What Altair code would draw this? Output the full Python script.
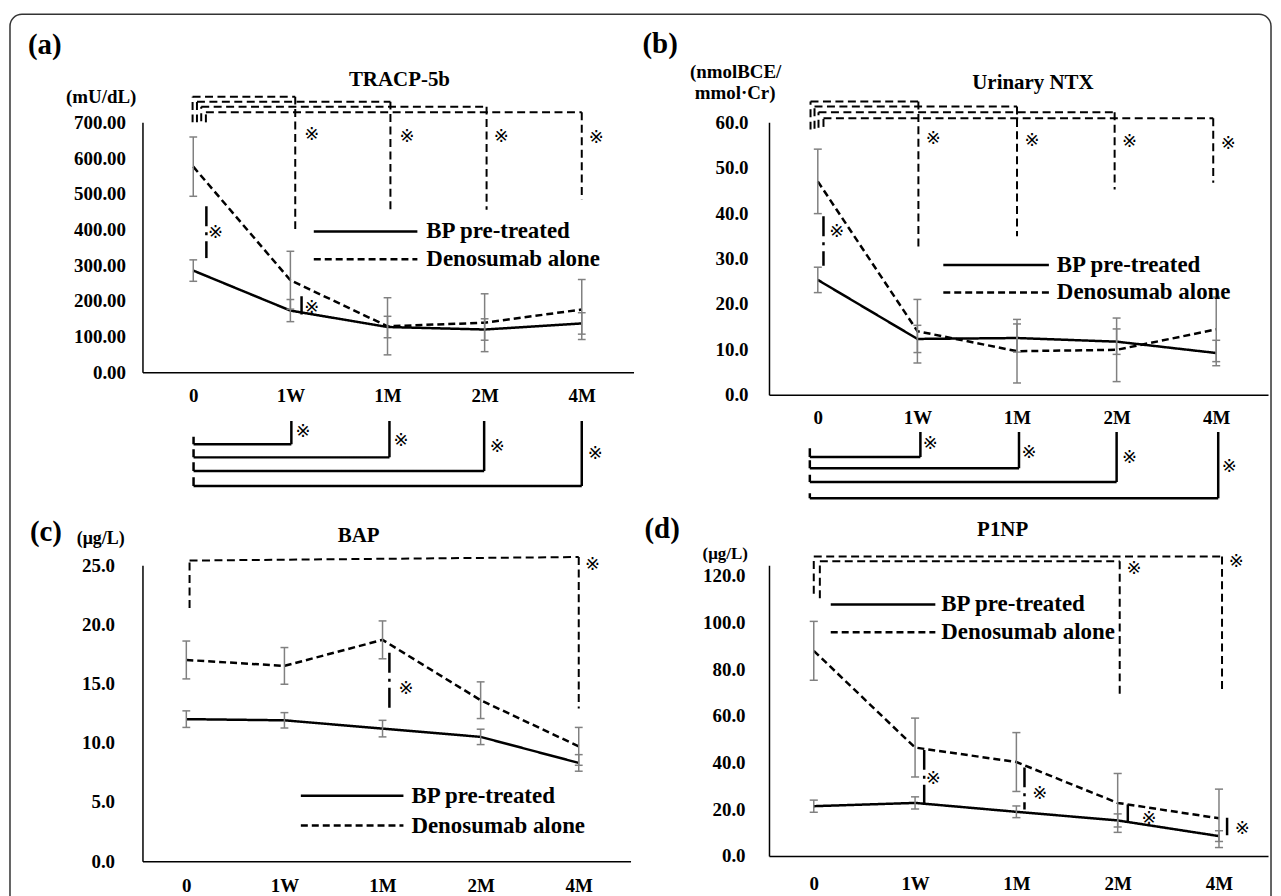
import altair as alt
import pandas as pd

SERIF = "Liberation Serif"
STARFONT = "DejaVu Sans"

TIMES = ["0", "1W", "1M", "2M", "4M"]
GROUPS = ["BP pre-treated", "Denosumab alone"]

# (a) TRACP-5b (mU/dL)
a_bp = [285, 173, 127, 120, 137]
a_bp_sd = [30, 31, 30, 30, 30]
a_den = [576, 258, 129, 139, 176]
a_den_sd = [83, 81, 80, 81, 84]

# (b) Urinary NTX (nmolBCE/mmol.Cr)
b_bp = [25.3, 12.3, 12.5, 11.7, 9.2]
b_bp_sd = [2.8, 3.0, 3.1, 2.8, 2.8]
b_den = [47.0, 14.0, 9.6, 9.9, 14.4]
b_den_sd = [7.1, 7.0, 7.0, 7.0, 7.1]

# (c) BAP (ug/L)
c_bp = [12.0, 11.9, 11.2, 10.5, 8.3]
c_bp_sd = [0.7, 0.65, 0.7, 0.65, 0.7]
c_den = [17.0, 16.5, 18.7, 13.6, 9.7]
c_den_sd = [1.6, 1.55, 1.6, 1.55, 1.6]

# (d) P1NP (ug/L)
d_bp = [21.3, 22.7, 18.9, 15.2, 8.5]
d_bp_sd = [2.6, 2.6, 2.5, 2.8, 2.3]
d_den = [87.8, 46.4, 40.2, 22.7, 16.1]
d_den_sd = [12.6, 12.6, 12.6, 12.6, 12.5]

# significance brackets: (x_left, x_right, level_left, level_right, end_left, end_right)
a_within_den = [(-0.007, 1.05, 772, 772, 700, 390), (0.038, 2.03, 758, 758, 700, 455),
                (0.082, 3.02, 744, 744, 703, 455), (0.13, 4.0, 728, 728, 700, 483)]
a_within_bp = [(0.003, 1.01, -201, -201, -180, -136), (0.003, 2.02, -238, -238, -215, -136),
               (0.003, 2.995, -276, -276, -252, -136), (0.003, 4.0, -318, -318, -294, -136)]
a_between = [(0.135, 465, 320, "dashdot"), (1.115, 213, 162, "solid")]
a_stars = [(1.22, 665), (2.2, 660), (3.17, 660), (4.15, 656), (0.23, 390), (1.22, 181),
           (1.13, -168), (2.14, -192), (3.13, -210), (4.14, -229)]

b_within_den = [(-0.073, 1.01, 64.6, 64.6, 58.4, 31.7), (-0.033, 2.0, 63.5, 63.5, 58.6, 34.9),
                (0.007, 2.98, 62.2, 62.2, 58.8, 45.2), (0.057, 3.97, 60.9, 60.9, 59.0, 46.7)]
b_within_bp = [(-0.08, 1.03, -13.7, -13.7, -11.8, -8.2), (-0.08, 2.02, -16.2, -16.2, -14.4, -8.2),
               (-0.08, 3.0, -19.2, -19.2, -17.6, -8.2), (-0.08, 4.02, -22.8, -22.8, -21.7, -8.2)]
b_between = [(0.057, 39.3, 28.4, "dashdot")]
b_stars = [(1.16, 56.3), (2.15, 55.8), (3.13, 55.6), (4.12, 55.3), (0.19, 35.9),
           (1.13, -10.75), (2.12, -12.9), (3.13, -14.0), (4.13, -15.9)]

c_within_den = [(0.033, 4.0, 25.4, 25.7, 21.4, 12.9)]
c_within_bp = []
c_between = [(2.07, 17.6, 12.8, "dashdot")]
c_stars = [(4.14, 25.0), (2.24, 14.55)]

d_within_den = [(0.0, 4.03, 128.2, 128.2, 112.2, 69.6), (0.06, 3.02, 126.1, 126.1, 110.3, 67.5)]
d_within_bp = []
d_between = [(1.09, 45.4, 22.7, "dashdot"), (2.08, 37.9, 19.9, "dashdot"),
             (3.10, 22.0, 14.2, "solid"), (4.08, 16.3, 8.9, "solid")]
d_stars = [(3.16, 122.8), (4.17, 125.7), (1.18, 33.1), (2.23, 26.6), (3.31, 15.6), (4.23, 11.4)]

ONE = pd.DataFrame({"k": [0]})
DASHES = {"dash": [8, 4.5], "solid": [1, 0], "dashdot": [20, 6, 3, 6]}


def series_df(bp, bp_sd, den, den_sd):
    rows = []
    for g, vals, sds in [(GROUPS[0], bp, bp_sd), (GROUPS[1], den, den_sd)]:
        for i, (v, s) in enumerate(zip(vals, sds)):
            rows.append({"pos": i, "time": TIMES[i], "group": g,
                         "value": v, "lo": v - s, "hi": v + s})
    return pd.DataFrame(rows)


def seg_df(within_den, within_bp, between):
    rows = []
    for style, lst in [("dash", within_den), ("solid", within_bp)]:
        for (xl, xr, ll, lr, yl, yr) in lst:
            rows += [{"x1": xl, "y1": yl, "x2": xl, "y2": ll, "style": style},
                     {"x1": xl, "y1": ll, "x2": xr, "y2": lr, "style": style},
                     {"x1": xr, "y1": lr, "x2": xr, "y2": yr, "style": style}]
    for (x, y1, y2, style) in between:
        rows.append({"x1": x, "y1": y1, "x2": x, "y2": y2, "style": style})
    return pd.DataFrame(rows, columns=["x1", "y1", "x2", "y2", "style"])


label_expr = " : ".join([f"datum.value == {i} ? '{t}'" for i, t in enumerate(TIMES)]) + " : ''"


def text_mark(txt, x, y, size, align="center", font=SERIF, weight="bold"):
    return alt.Chart(ONE).mark_text(text=txt, align=align, baseline="middle", font=font,
                                    fontSize=size, fontWeight=weight, color="black").encode(
        x=alt.value(x), y=alt.value(y))


def panel(p):
    xscale = alt.Scale(domain=p["xdom"], nice=False, zero=False)
    yscale = alt.Scale(domain=p["ydom"], nice=False, zero=False)
    xaxis = alt.Axis(values=[0, 1, 2, 3, 4], labelExpr=label_expr, ticks=False, grid=False,
                     labelFont=SERIF, labelFontSize=19, labelFontWeight="bold", labelColor="black",
                     labelPadding=p["xpad"], domainColor="black", domainWidth=1.5, title=None)
    yaxis = alt.Axis(values=p["yvals"], format=p["yfmt"], ticks=False, grid=False,
                     labelFont=SERIF, labelFontSize=19, labelFontWeight="bold", labelColor="black",
                     labelPadding=p["ypad"], domainColor="black", domainWidth=1.5, title=None)

    def X(f):
        return alt.X(f, scale=xscale, axis=xaxis, title=None)

    def Y(f):
        return alt.Y(f, scale=yscale, axis=yaxis, title=None)

    df = p["df"]
    segs = p["segs"]
    layers = []
    for style, width in [("dash", 2), ("solid", 2.5), ("dashdot", 2.5)]:
        sub = segs[segs["style"] == style]
        if len(sub):
            layers.append(alt.Chart(sub).mark_rule(color="black", strokeWidth=width,
                                                   strokeDash=DASHES[style]).encode(
                x=X("x1:Q"), x2="x2:Q", y=Y("y1:Q"), y2="y2:Q"))
    for g, dash in [(GROUPS[0], [1, 0]), (GROUPS[1], [7, 4])]:
        layers.append(alt.Chart(df[df["group"] == g]).mark_line(
            color="black", strokeWidth=2.5, strokeDash=dash).encode(
            x=X("pos:Q"), y=Y("value:Q"), tooltip=["time:N", "group:N", "value:Q"]))
    gray = "#808080"
    layers.append(alt.Chart(df).mark_rule(color=gray, strokeWidth=1.5).encode(
        x=X("pos:Q"), y=Y("lo:Q"), y2="hi:Q"))
    layers.append(alt.Chart(df).transform_fold(["lo", "hi"], as_=["end", "yv"]).transform_calculate(
        xa="datum.pos - 0.04", xb="datum.pos + 0.04").mark_rule(color=gray, strokeWidth=1.5).encode(
        x=X("xa:Q"), x2="xb:Q", y=Y("yv:Q")))
    stars = pd.DataFrame(p["stars"], columns=["sx", "sy"])
    layers.append(alt.Chart(stars).mark_text(text="※", font=STARFONT, fontSize=18,
                                             color="black").encode(x=X("sx:Q"), y=Y("sy:Q")))
    # legend
    lx1, lx2, ly1, ly2, ltx = p["legend"]
    layers.append(alt.Chart(ONE).mark_rule(color="black", strokeWidth=2.5).encode(
        x=alt.value(lx1), x2=alt.value(lx2), y=alt.value(ly1)))
    layers.append(alt.Chart(ONE).mark_rule(color="black", strokeWidth=2.5, strokeDash=[7, 4]).encode(
        x=alt.value(lx1), x2=alt.value(lx2), y=alt.value(ly2)))
    layers.append(text_mark(GROUPS[0], ltx, ly1, 23, align="left"))
    layers.append(text_mark(GROUPS[1], ltx, ly2, 23, align="left"))
    for (txt, x, y, size, align) in p["texts"]:
        layers.append(text_mark(txt, x, y, size, align=align))
    if p.get("border"):
        bx1, bx2, by1, by2 = p["border"]
        layers.insert(0, alt.Chart(ONE).mark_rect(fill="transparent", stroke="#333333", strokeWidth=1.5,
                                                  cornerRadius=12).encode(
            x=alt.value(bx1), x2=alt.value(bx2), y=alt.value(by1), y2=alt.value(by2)))
    return alt.layer(*layers).properties(width=p["w"], height=p["h"])


pa = dict(df=series_df(a_bp, a_bp_sd, a_den, a_den_sd), segs=seg_df(a_within_den, a_within_bp, a_between),
          stars=a_stars, xdom=[-0.523, 4.533], ydom=[0, 700], w=493, h=251,
          yvals=[0, 100, 200, 300, 400, 500, 600, 700], yfmt=".2f", ypad=17, xpad=14,
          legend=(172, 276, 109.5, 137.5, 285),
          texts=[("(a)", -115, -78, 29, "left"), ("TRACP-5b", 258, -42.5, 21, "center"),
                 ("(mU/dL)", -41.5, -25.8, 19, "center")],
          border=(-133, 1133, -108.5, 800))
pb = dict(df=series_df(b_bp, b_bp_sd, b_den, b_den_sd), segs=seg_df(b_within_den, b_within_bp, b_between),
          stars=b_stars, xdom=[-0.49, 4.52], ydom=[0, 60], w=501, h=273.5,
          yvals=[0, 10, 20, 30, 40, 50, 60], yfmt=".1f", ypad=21, xpad=14,
          legend=(175, 281, 143.2, 170.8, 289),
          texts=[("(b)", -127, -79, 29, "left"), ("Urinary NTX", 265, -39.5, 21, "center"),
                 ("(nmolBCE/", -33.5, -50.8, 19, "center"), ("mmol·Cr)", -34, -29.2, 19, "center")])
pc = dict(df=series_df(c_bp, c_bp_sd, c_den, c_den_sd), segs=seg_df(c_within_den, c_within_bp, c_between),
          stars=c_stars, xdom=[-0.447, 4.528], ydom=[0, 25], w=490, h=297,
          yvals=[0, 5, 10, 15, 20, 25], yfmt=".1f", ypad=28, xpad=15,
          legend=(159, 262, 231.3, 261.3, 270),
          texts=[("(c)", -113, -33, 29, "left"), ("(μg/L)", -42, -26.5, 18, "center"),
                 ("BAP", 217, -29.5, 21, "center")])
pd_ = dict(df=series_df(d_bp, d_bp_sd, d_den, d_den_sd), segs=seg_df(d_within_den, d_within_bp, d_between),
           stars=d_stars, xdom=[-0.442, 4.484], ydom=[0, 124.4], w=501, h=291.8,
           yvals=[0, 20, 40, 60, 80, 100, 120], yfmt=".1f", ypad=24, xpad=19,
           legend=(62, 167, 39.3, 67.3, 173),
           texts=[("(d)", -125, -36.7, 29, "left"), ("(μg/L)", -44, -11, 17, "center"),
                  ("P1NP", 234.6, -35, 21, "center")])

chart = alt.concat(panel(pa), panel(pb), panel(pc), panel(pd_), columns=2,
                   spacing={"row": 170.7, "column": 136}, bounds="flush", align="each").properties(
    padding={"left": 0, "top": 3, "right": 0, "bottom": 0}, background="white"
).configure_view(stroke="transparent")

chart.save("out.html", embed_options={"renderer": "svg", "actions": False})
